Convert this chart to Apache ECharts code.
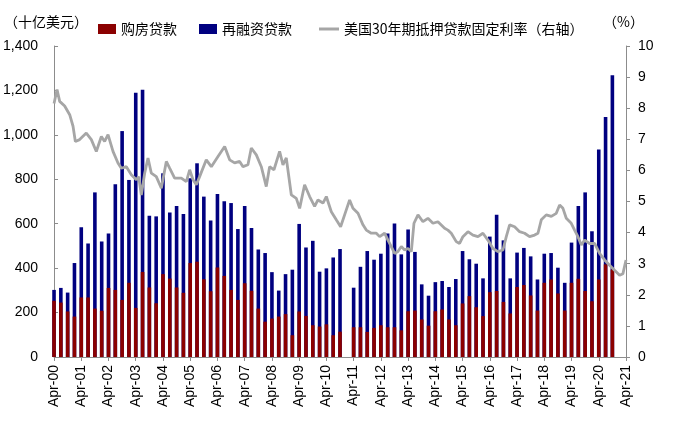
<!DOCTYPE html>
<html>
<head>
<meta charset="utf-8">
<script src="https://cdn.jsdelivr.net/npm/echarts@6/dist/echarts.min.js"></script>
<style>
html,body{margin:0;padding:0;background:#fff;}
#chart{width:676px;height:440px;}
</style>
</head>
<body>
<div id="chart"></div>
<script>
// Quarter index (0 = Apr-00 / Q2 2000)
const quarters = [0,1,2,3,4,5,6,7,8,9,10,11,12,13,14,15,16,17,18,19,20,21,22,23,24,25,26,27,28,29,30,31,32,33,34,35,36,37,38,39,40,41,42,43,44,45,46,47,48,49,50,51,52,53,54,55,56,57,58,59,60,61,62,63,64,65,66,67,68,69,70,71,72,73,74,75,76,77,78,79,80,81,82];
// 购房贷款 (billion USD)
const purchase = [253,245,205,182,268,268,218,208,311,302,257,334,221,383,313,242,373,353,313,289,423,429,350,296,403,365,302,257,332,298,218,159,173,182,193,98,205,185,143,137,147,98,114,null,134,134,113,131,143,134,134,120,206,209,169,141,206,214,169,143,241,274,224,184,292,297,248,196,315,324,277,209,334,349,286,209,334,352,297,251,349,417,394];
// 再融资贷款 (billion USD)
const refinance = [49,66,85,241,316,243,523,312,245,476,760,463,969,820,323,391,454,298,367,355,382,443,372,318,331,336,391,319,348,283,266,309,209,117,180,295,394,308,380,247,252,350,372,null,178,272,364,307,322,422,467,342,368,264,158,135,131,128,146,208,236,166,196,170,250,343,277,158,155,167,176,140,131,119,116,125,181,328,444,315,585,663,874];
// 美国30年期抵押贷款固定利率 (%), position in quarters since Apr-00
const rateQ = [0,0.44,0.83,1.56,2.3,2.79,3.13,3.76,4.74,5.48,6.21,6.95,7.43,7.93,8.66,9.39,9.88,10.62,11.35,12.09,12.43,12.82,13.31,13.8,14.29,15.02,15.76,16.49,16.98,17.71,18.69,19.43,19.92,20.41,20.9,21.38,22.36,23.1,24.08,25.06,25.79,26.52,27.26,27.75,28.48,28.97,29.71,30.44,31.17,31.66,32.3,33.13,33.62,34.11,34.85,35.58,36.07,36.8,37.54,38.27,38.76,39.5,39.99,40.72,41.45,42.09,42.92,43.41,43.9,44.64,45.37,45.86,46.59,47.33,47.82,48.55,49.04,49.53,50.02,50.51,51,51.49,51.98,52.47,52.86,53.45,54.18,54.91,55.65,56.38,57.36,57.85,58.34,59.07,59.56,60.05,60.79,61.52,62.26,62.99,63.72,64.46,65.19,65.93,66.42,66.91,67.64,68.37,69.11,69.84,70.58,71.07,71.56,72.29,73.03,73.76,74.25,74.74,75.23,75.96,76.45,76.94,77.43,77.92,78.65,79.39,80.12,80.86,81.59,82.32,83.06,83.55,84];
const rateVal = [8.15,8.6,8.22,8.07,7.79,7.42,6.93,6.99,7.2,6.99,6.61,7.09,6.93,7.15,6.61,6.24,6.07,6.12,5.86,5.7,5.8,5.21,5.91,6.4,5.91,5.8,5.43,6.29,6.07,5.75,5.75,5.64,6.02,5.7,5.54,5.8,6.34,6.12,6.45,6.77,6.34,6.24,6.29,6.12,6.18,6.72,6.5,6.12,5.48,6.12,6.02,6.61,6.18,6.4,5.21,5.1,4.78,5.54,5.16,4.84,5.05,4.95,5.16,4.67,4.41,4.19,4.73,5.05,4.78,4.62,4.25,4.08,3.98,3.98,3.87,3.98,3.76,3.55,3.33,3.39,3.55,3.44,3.49,3.39,4.3,4.57,4.35,4.46,4.3,4.35,4.14,4.08,3.98,3.71,3.65,3.87,4.03,3.92,3.87,3.98,3.76,3.49,3.39,3.44,3.87,4.25,4.19,4.03,3.98,3.87,3.92,3.98,4.41,4.57,4.52,4.62,4.89,4.78,4.46,4.3,4.08,3.87,3.6,3.76,3.65,3.65,3.33,3.12,2.95,2.79,2.63,2.68,3.12];
// x tick labels (every 4 quarters)
const xTickLabels = ['Apr-00','Apr-01','Apr-02','Apr-03','Apr-04','Apr-05','Apr-06','Apr-07','Apr-08','Apr-09','Apr-10','Apr-11','Apr-12','Apr-13','Apr-14','Apr-15','Apr-16','Apr-17','Apr-18','Apr-19','Apr-20','Apr-21'];

const seriesNames = ['购房贷款','再融资贷款','美国30年期抵押贷款固定利率（右轴）'];

const chart = echarts.init(document.getElementById('chart'));
const numFont = 'Liberation Sans, Arial, sans-serif';
const cjkFont = 'Noto Sans CJK SC, sans-serif';
const axisGray = '#8c8c8c';
const RED = '#8B0000', NAVY = '#000080', GRAY = '#A6A6A6';

function fmtThousands(v){
  const s = String(Math.round(v));
  return s.replace(/\B(?=(\d{3})+(?!\d))/g, ',');
}

// refinance bars sit on top of purchase bars: navy bar spans 0..(purchase+refinance),
// red purchase bar is drawn over its lower part
const stackTop = quarters.map((q, i) => purchase[i] == null ? null : purchase[i] + refinance[i]);

chart.setOption({
  animation: false,
  backgroundColor: '#fff',
  grid: {left: 52, right: 50, top: 46, bottom: 83, containLabel: false},
  legend: [
    {
      left: 93, top: 17,
      itemWidth: 18, itemHeight: 10, itemGap: 22,
      textStyle: {fontFamily: cjkFont, fontSize: 14, color: '#000'},
      data: [
        {name: seriesNames[0], icon: 'rect'},
        {name: seriesNames[1], icon: 'rect'}
      ]
    },
    {
      left: 314, top: 17,
      itemWidth: 20, itemHeight: 3,
      textStyle: {fontFamily: cjkFont, fontSize: 14, color: '#000'},
      data: [{name: seriesNames[2], icon: 'rect'}]
    }
  ],
  graphic: [
    {type: 'text', left: 4, top: 15, style: {text: '（十亿美元）', font: '14px ' + cjkFont, fill: '#000'}},
    {type: 'text', left: 603, top: 15, style: {text: '（%）', font: '14px ' + cjkFont, fill: '#000'}}
  ],
  xAxis: {
    type: 'value', min: 0, max: 84, interval: 4,
    axisLine: {show: true, lineStyle: {color: axisGray}},
    axisTick: {show: true, length: 4, lineStyle: {color: axisGray}},
    splitLine: {show: false},
    axisLabel: {
      rotate: 90, margin: 8, fontFamily: numFont, fontSize: 14, color: '#000',
      formatter: function(v){ return xTickLabels[Math.round(v/4)] || ''; }
    }
  },
  yAxis: [
    {
      type: 'value', min: 0, max: 1400, interval: 200, position: 'left',
      axisLine: {show: true, lineStyle: {color: axisGray}},
      axisTick: {show: true, inside: true, length: 4, lineStyle: {color: axisGray}},
      splitLine: {show: false},
      axisLabel: {margin: 16, fontFamily: numFont, fontSize: 14, color: '#000', formatter: fmtThousands}
    },
    {
      type: 'value', min: 0, max: 10, interval: 1, position: 'right',
      axisLine: {show: true, lineStyle: {color: axisGray}},
      axisTick: {show: true, length: 4, lineStyle: {color: axisGray}},
      splitLine: {show: false},
      axisLabel: {margin: 12, fontFamily: numFont, fontSize: 14, color: '#000'}
    }
  ],
  series: [
    {
      name: seriesNames[1], type: 'bar', barWidth: 3.6, barGap: '-100%', z: 2,
      itemStyle: {color: NAVY},
      data: quarters.map((q, i) => [q, stackTop[i]])
    },
    {
      name: seriesNames[0], type: 'bar', barWidth: 3.6, barGap: '-100%', z: 3,
      itemStyle: {color: RED},
      data: quarters.map((q, i) => [q, purchase[i]])
    },
    {
      name: seriesNames[2], type: 'line', yAxisIndex: 1, z: 5,
      showSymbol: false, symbol: 'none', smooth: false,
      lineStyle: {color: GRAY, width: 2.8},
      itemStyle: {color: GRAY},
      data: rateQ.map((q, i) => [q, rateVal[i]])
    }
  ]
});
</script>
</body>
</html>
